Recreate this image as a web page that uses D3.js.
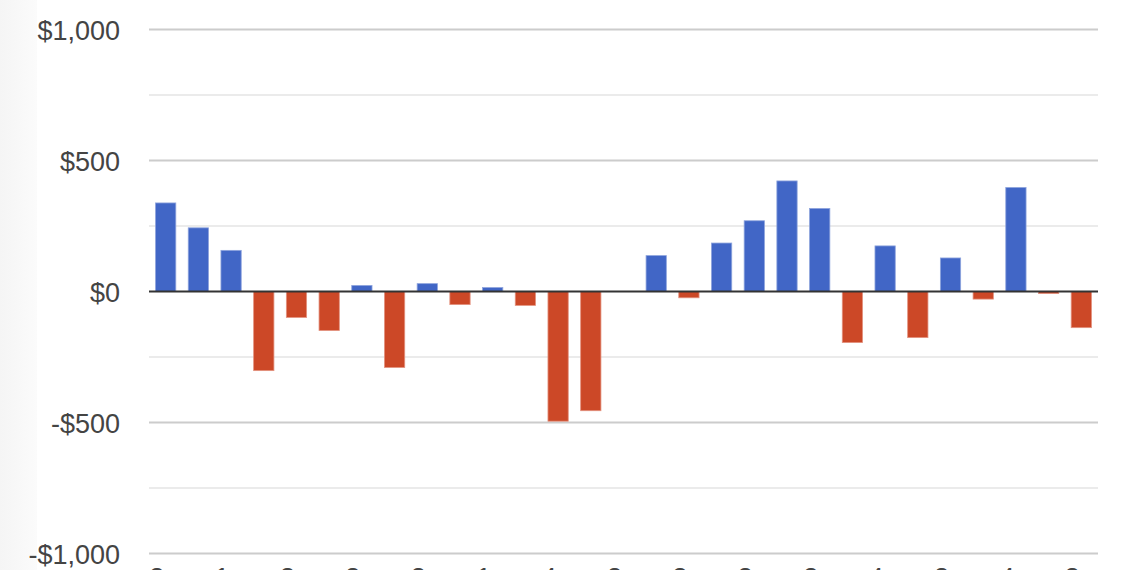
<!DOCTYPE html>
<html>
<head>
<meta charset="utf-8">
<script src="https://cdn.jsdelivr.net/npm/d3@7"></script>
<style>
  body { margin: 0; background: #fff; }
  svg { display: block; }
  .ylab text, .xlab text { font-family: "Liberation Sans", Arial, sans-serif; font-size: 27px; fill: #444; }
</style>
</head>
<body>
<div id="canvas"></div>
<script>
// DATA
const categories = d3.range(1, 30).map(i => "c" + i);
const values = [338, 243, 157, -302, -99, -149, 23, -290, 30, -50, 15, -53, -495, -455, 0,
  137, -24, 185, 270, 422, 317, -195, 174, -176, 128, -29, 397, -8, -138];
const tickCats = categories.filter((d, i) => i % 2 === 0);
const tickLabels = ["2", "1", "3", "3", "2", "1", "4", "2", "3", "3", "2", "4", "2", "4", "3"];
const yTicks = [-1000, -750, -500, -250, 0, 250, 500, 750, 1000];
const yLabelTicks = [-1000, -500, 0, 500, 1000];

function drawGraph() {
  // DIMENSIONS
  const width = 1136;
  const height = 570;
  const left = 149, right = 1098, top = 29.5, bottom = 553.5;

  const canvas = d3.select("#canvas")
    .append("svg")
    .attr("width", width)
    .attr("height", height);

  // faint shade on the left edge
  const grad = canvas.append("defs").append("linearGradient")
    .attr("id", "edge").attr("x1", 0).attr("x2", 1);
  grad.append("stop").attr("offset", 0).attr("stop-color", "#f5f5f5");
  grad.append("stop").attr("offset", 1).attr("stop-color", "#fbfbfb");
  canvas.append("rect").attr("width", 37).attr("height", height).attr("fill", "url(#edge)");

  // SCALES
  const xScale = d3.scaleBand()
    .domain(categories)
    .range([left, right])
    .paddingInner(0.38)
    .paddingOuter(0.2);

  const yScale = d3.scaleLinear()
    .domain([-1000, 1000])
    .range([bottom, top]);

  // GRID
  canvas.append("g")
    .selectAll("line")
    .data(yTicks.filter(d => d !== 0))
    .join("line")
    .attr("x1", left)
    .attr("x2", right)
    .attr("y1", d => yScale(d))
    .attr("y2", d => yScale(d))
    .attr("stroke", d => d % 500 === 0 ? "#cccccc" : "#ebebeb")
    .attr("stroke-width", 2);

  // Y AXIS LABELS
  const fmt = d => (d < 0 ? "-$" : "$") + d3.format(",")(Math.abs(d));
  canvas.append("g")
    .attr("class", "ylab")
    .attr("transform", `translate(${left}, 0)`)
    .call(d3.axisLeft(yScale).tickValues(yLabelTicks).tickSize(0).tickPadding(29).tickFormat(fmt))
    .call(g => g.select(".domain").remove())
    .selectAll("text")
    .attr("dy", "0.38em");

  // BARS
  canvas.append("g")
    .selectAll("rect")
    .data(values.map((v, i) => ({ cat: categories[i], v })).filter(d => d.v !== 0))
    .join("rect")
    .attr("x", d => xScale(d.cat))
    .attr("width", xScale.bandwidth())
    .attr("y", d => yScale(Math.max(0, d.v)))
    .attr("height", d => Math.abs(yScale(d.v) - yScale(0)))
    .attr("fill", d => d.v > 0 ? "#4166c6" : "#cc4827")
    .attr("stroke", d => d.v > 0 ? "#8ea4dd" : "#e3927f")
    .attr("stroke-width", 0.8);

  // ZERO LINE
  canvas.append("line")
    .attr("x1", left)
    .attr("x2", right)
    .attr("y1", yScale(0))
    .attr("y2", yScale(0))
    .attr("stroke", "#333333")
    .attr("stroke-width", 2);

  // X AXIS LABELS (cut off by the frame)
  const labelOf = d3.scaleOrdinal().domain(tickCats).range(tickLabels);
  canvas.append("g")
    .attr("class", "xlab")
    .attr("transform", `translate(0, ${bottom})`)
    .call(d3.axisBottom(xScale).tickValues(tickCats).tickSize(0).tickPadding(14).tickFormat(labelOf))
    .call(g => g.select(".domain").remove())
    .selectAll("text")
    .attr("dx", -9);
}

drawGraph();
</script>
</body>
</html>
